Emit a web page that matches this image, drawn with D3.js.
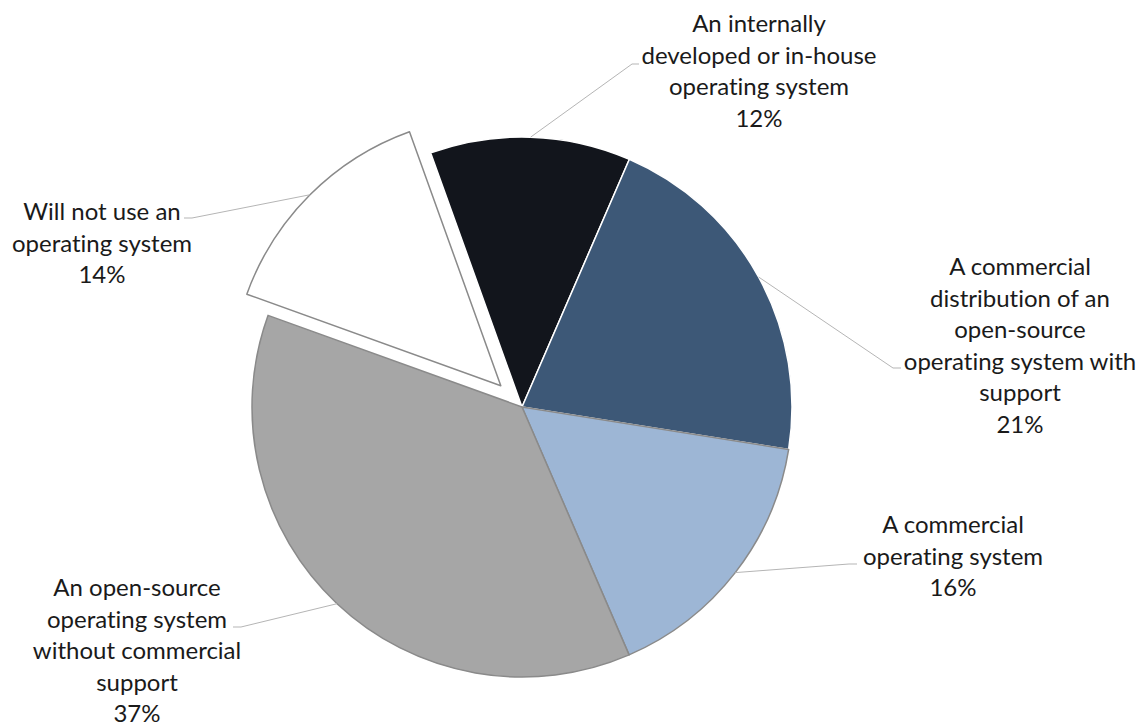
<!DOCTYPE html>
<html>
<head>
<meta charset="utf-8">
<script src="https://cdn.jsdelivr.net/npm/d3@7"></script>
<style>
  html, body { margin: 0; padding: 0; background: #fff; }
  svg text { font-family: "Lato", "Open Sans", sans-serif; fill: #1a1a1a; font-variant-ligatures: none; }
</style>
</head>
<body>
<div id="pie-container"></div>
<script>
// slices in clockwise order, starting with the in-house slice at the top
const categories = [
  ["An internally", "developed or in-house", "operating system"],
  ["A commercial", "distribution of an", "open-source", "operating system with", "support"],
  ["A commercial", "operating system"],
  ["An open-source", "operating system", "without commercial", "support"],
  ["Will not use an", "operating system"],
];
const shares = [12, 21, 16, 37, 14];
const colors = ["#12151c", "#3d5877", "#9db6d5", "#a6a6a6", "#ffffff"];

// layout for each label: centre x, first baseline, and where the leader line meets it
const labelPos = [
  { x: 759, y: 32, end: [639, 64], elbow: [632, 64] },
  { x: 1020, y: 275, end: [901, 368], elbow: [893, 368] },
  { x: 953, y: 533, end: [857, 564], elbow: [849, 564] },
  { x: 137, y: 596, end: [233, 627], elbow: [241, 627] },
  { x: 102, y: 220, end: [184, 218], elbow: [192, 218] },
];

const width = 1148;
const height = 728;
const cx = 522;
const cy = 407;
const radius = 270;
const explode = 30; // only the "will not use" slice is pulled out
const lineHeight = 31.5;

const svg = d3
  .select("#pie-container")
  .append("svg")
  .attr("width", width)
  .attr("height", height);

const g = svg.append("g").attr("transform", `translate(${cx}, ${cy})`);

const pieGenerator = d3
  .pie()
  .sort(null)
  .startAngle(-0.345)
  .endAngle(-0.345 + 2 * Math.PI)
  .value((d) => d);

const arcGenerator = d3.arc().innerRadius(0).outerRadius(radius);
const edgeArc = d3.arc().innerRadius(radius).outerRadius(radius);

const arcs = pieGenerator(shares);

function offset(d, i) {
  if (i !== 4) return [0, 0];
  const mid = (d.startAngle + d.endAngle) / 2;
  return [Math.sin(mid) * explode, -Math.cos(mid) * explode];
}

// slice outlines: dark slices get a white edge, light ones a grey edge
const strokes = ["#ffffff", "#ffffff", "#8a8a8a", "#8a8a8a", "#8a8a8a"];

g.selectAll("path.slice")
  .data(arcs)
  .enter()
  .append("path")
  .attr("class", "slice")
  .attr("d", arcGenerator)
  .attr("transform", (d, i) => `translate(${offset(d, i).join(",")})`)
  .style("fill", (_, i) => colors[i])
  .style("stroke", (_, i) => strokes[i])
  .style("stroke-width", 1.5)
  .style("stroke-linejoin", "round");

// leader lines from the middle of each slice's rim to its label
const line = d3.line();
svg.selectAll("path.leader")
  .data(arcs)
  .enter()
  .append("path")
  .attr("class", "leader")
  .attr("d", (d, i) => {
    const [ox, oy] = offset(d, i);
    const [px, py] = edgeArc.centroid(d);
    const p = labelPos[i];
    return line([[cx + px + ox, cy + py + oy], p.elbow, p.end]);
  })
  .style("fill", "none")
  .style("stroke", "#b5b5b5")
  .style("stroke-width", 1);

// labels
const labels = svg.selectAll("text.label")
  .data(arcs)
  .enter()
  .append("text")
  .attr("class", "label")
  .attr("text-anchor", "middle")
  .style("font-size", "24px");

labels.each(function (d, i) {
  const lines = categories[i].concat([shares[i] + "%"]);
  const t = d3.select(this);
  lines.forEach((s, k) => {
    t.append("tspan")
      .attr("x", labelPos[i].x)
      .attr("y", labelPos[i].y + k * lineHeight)
      .text(s);
  });
});
</script>
</body>
</html>
